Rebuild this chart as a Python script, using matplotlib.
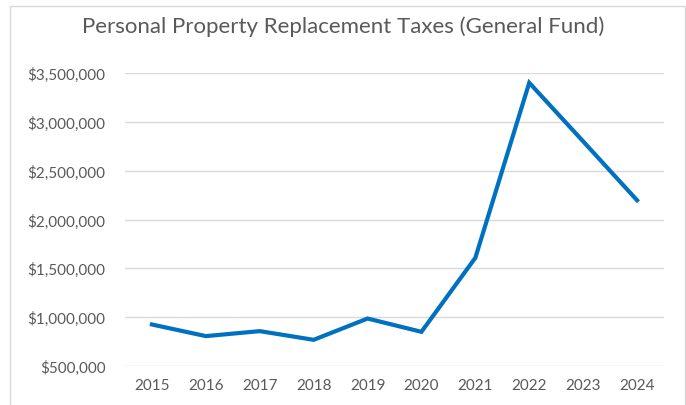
import matplotlib
matplotlib.use("Agg")
import matplotlib.pyplot as plt
from matplotlib.patches import Rectangle
from matplotlib.ticker import FuncFormatter

years = ['2015', '2016', '2017', '2018', '2019', '2020', '2021', '2022', '2023', '2024']
taxes = [925000, 806000, 857000, 768000, 986000, 850000, 1608000, 3400000, 2800000, 2197000]
y_ticks = [500000, 1000000, 1500000, 2000000, 2500000, 3000000, 3500000]

plt.rcParams['font.family'] = ['Lato', 'DejaVu Sans']

W, H = 686, 406
fig = plt.figure(figsize=(W / 100, H / 100), dpi=100)
fig.patch.set_facecolor('white')

# chart border
fig.patches.append(Rectangle((10 / W, -0.05), 675 / W, 1 - 7 / H + 0.05,
                             transform=fig.transFigure, fill=False,
                             edgecolor='#d9d9d9', linewidth=1))

ax = fig.add_axes([125 / W, 1 - 367 / H, 539 / W, (367 - 74) / H])
x = range(len(years))
ax.plot(x, taxes, color='#0070c0', linewidth=3, solid_joinstyle='miter')

ax.set_xlim(-0.5, len(years) - 0.5)
ax.set_ylim(500000, 3500000)
ax.set_yticks(y_ticks)
ax.yaxis.set_major_formatter(FuncFormatter(lambda v, p: f'${v:,.0f}'))
ax.set_xticks(list(x))
ax.set_xticklabels(years)
ax.grid(axis='y', color='#d9d9d9', linewidth=1)
ax.set_axisbelow(True)
for s in ax.spines.values():
    s.set_visible(False)
ax.tick_params(length=0, labelsize=11, labelcolor='#595959')
ax.tick_params(axis='y', pad=14)
ax.tick_params(axis='x', pad=9)

fig.text(343 / W, 1 - 27 / H, 'Personal Property Replacement Taxes (General Fund)',
         ha='center', va='center', fontsize=16, color='#595959')

fig.savefig('out.png', dpi=100)
